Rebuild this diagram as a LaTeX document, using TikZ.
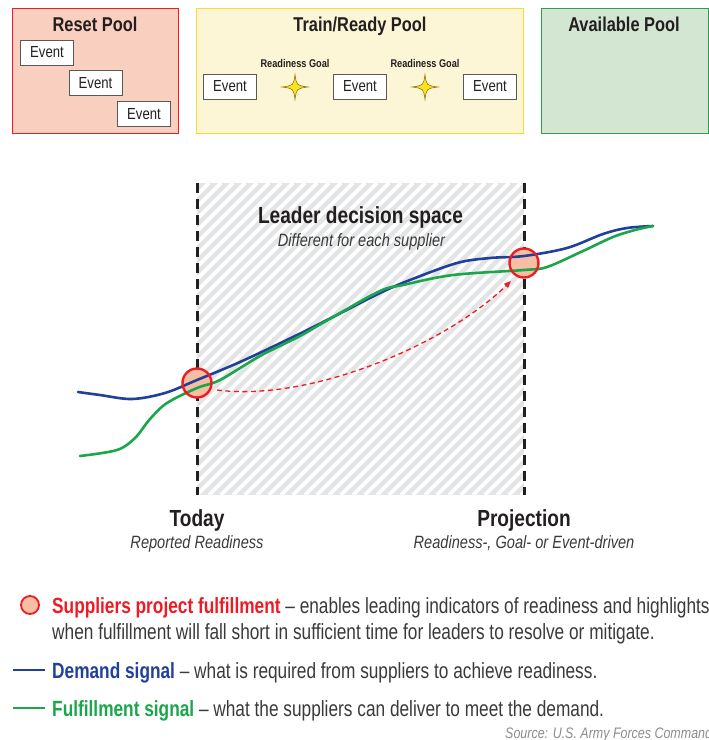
\documentclass[tikz,border=0pt]{standalone}
\usepackage{fontspec}
\setmainfont{Liberation Sans}[FakeStretch=0.82]
\newfontfamily\legendfont{Liberation Sans}[FakeStretch=0.785]
\usetikzlibrary{arrows.meta}

\definecolor{resetfill}{HTML}{F9D0BF}
\definecolor{resetline}{HTML}{ED1C24}
\definecolor{trainfill}{HTML}{FDF6D6}
\definecolor{trainline}{HTML}{F9DC2E}
\definecolor{availfill}{HTML}{D3E6D1}
\definecolor{availline}{HTML}{2E9E4F}
\definecolor{hatchgray}{HTML}{E3E4E5}
\definecolor{demandblue}{HTML}{21409A}
\definecolor{fulfilgreen}{HTML}{1AA64B}
\definecolor{pred}{HTML}{ED1C24}
\definecolor{pfill}{HTML}{F7BEA4}
\definecolor{inkdark}{HTML}{231F20}
\definecolor{legendtext}{HTML}{3A3A3A}
\definecolor{starfill}{HTML}{FFE21F}
\definecolor{starline}{HTML}{8C7A10}
\definecolor{srcgray}{HTML}{8C8C8C}

\newcommand{\fsz}[1]{\fontsize{#1}{#1}\selectfont}
\newcommand{\keyterm}[2]{\textcolor{#1}{\bfseries #2}}

\begin{document}
\begin{tikzpicture}[x=1pt,y=-1pt,
  pool/.style={draw, line width=1.3pt, anchor=north west, inner sep=0pt},
  pooltitle/.style={anchor=base, font=\fsz{20}\bfseries, text=inkdark, inner sep=0pt},
  evbox/.style={draw=black!65, line width=1pt, fill=white, minimum width=53pt,
    minimum height=25pt, inner sep=0pt, font=\fsz{16}, text=inkdark},
  goal/.style={anchor=base, font=\fsz{11.2}\bfseries, text=inkdark, inner sep=0pt},
  star/.style={fill=starfill, draw=starline, line width=0.6pt},
  vline/.style={line width=3pt, inkdark, dash pattern=on 10pt off 6pt},
  demand/.style={line width=2.6pt, demandblue, line cap=round},
  fulfil/.style={line width=2.6pt, fulfilgreen, line cap=round},
  pdisk/.style={circle, fill=pfill, minimum size=29pt, inner sep=0pt},
  pring/.style={draw=pred, line width=2.4pt},
  parrow/.style={pred, line width=1.3pt, dash pattern=on 5pt off 3.5pt,
    -{Triangle[length=7pt,width=5.5pt]}},
  big/.style={anchor=base, font=\fsz{23.3}\bfseries, text=inkdark, inner sep=0pt},
  sub/.style={anchor=base, font=\fsz{17.8}\itshape, text=legendtext, inner sep=0pt},
  legend/.style={anchor=base west, font=\legendfont\fsz{22}, text=legendtext, inner sep=0pt},
]
\useasboundingbox (0,0) rectangle (709,740);

% ---------- the three pools ----------
\node[pool, fill=resetfill, draw=resetline, minimum width=166pt, minimum height=125pt] (reset) at (12,8) {};
\node[pool, fill=trainfill, draw=trainline, minimum width=327pt, minimum height=125pt] (train) at (196,8) {};
\node[pool, fill=availfill, draw=availline, minimum width=167pt, minimum height=125pt] (avail) at (541,8) {};

\node[pooltitle] (resetT) at (95,31) {Reset Pool};
\node[pooltitle] (trainT) at (360,31) {Train/Ready Pool};
\node[pooltitle] (availT) at (624,31) {Available Pool};

% events in the reset pool
\node[evbox] (r1) at (47,52.5) {Event};
\node[evbox] (r2) at (95.5,83) {Event};
\node[evbox] (r3) at (144,114) {Event};

% events and goals in the train/ready pool
\node[evbox] (t1) at (230,86.5) {Event};
\node[evbox] (t2) at (360,86.5) {Event};
\node[evbox] (t3) at (490,86.5) {Event};

\node[goal] (g1) at (295,67) {Readiness Goal};
\node[goal] (g2) at (425,67) {Readiness Goal};

\foreach \cx in {295,425}{
  \begin{scope}[shift={(\cx,87)}]
    \draw[star] (0,-12.5) .. controls (1.5,-1.5) .. (13,0)
      .. controls (1.5,1.5) .. (0,12.5)
      .. controls (-1.5,1.5) .. (-13,0)
      .. controls (-1.5,-1.5) .. (0,-12.5) -- cycle;
  \end{scope}
}

% ---------- leader decision space ----------
\coordinate (todayTop) at (197,183);
\coordinate (todayBot) at (197,495);
\coordinate (projTop) at (524,183);
\coordinate (projBot) at (524,495);

\fill[hatchgray] (todayTop) rectangle (projBot);
\begin{scope}
  \clip (todayTop) rectangle (projBot);
  \foreach \i in {-324,-312,...,336}
    \draw[white, line width=3.6pt] (197+\i,495) -- (509+\i,183);
\end{scope}

\draw[vline] (todayTop) -- (todayBot);
\draw[vline] (projTop) -- (projBot);

\node[big] (space) at (360.5,223) {Leader decision space};
\node[sub] (spaceSub) at (361.5,246) {Different for each supplier};

% projected fulfillment points (fill first, ring on top of the signals)
\node[pdisk] (c1) at (197,383) {};
\node[pdisk] (c2) at (524,263) {};

% demand and fulfillment signals
\draw[demand] plot[smooth, tension=0.55] coordinates {
  (78,392) (100,395) (132,399) (165,393) (197,380) (240,362) (293,337)
  (333,317) (380,293) (410,280) (457,263) (490,258) (524,256) (567,248)
  (603,234) (627,228) (653,226)};
\draw[fulfil] plot[smooth, tension=0.55] coordinates {
  (80,456) (117,450) (135,438) (150,419) (167,403) (197,388) (220,380)
  (260,356) (300,336) (333,317) (380,291) (403,285) (453,275) (524,270)
  (547,267) (583,251) (613,237) (635,230) (653,226)};

\draw[pring] (c1) circle[radius=14.5pt];
\draw[pring] (c2) circle[radius=14.5pt];

\coordinate (arrS) at (217,390);
\coordinate (arrE) at (511,281);
\draw[parrow] (arrS) .. controls (310,402) and (445,345) .. (arrE);

\node[big] (today) at (197,526) {Today};
\node[sub] (todaySub) at (197,548) {Reported Readiness};
\node[big] (proj) at (524,526) {Projection};
\node[sub] (projSub) at (524,548) {Readiness-, Goal- or Event-driven};

% ---------- legend ----------
\node[circle, fill=pfill, draw=pred, line width=1.8pt, minimum size=18pt, inner sep=0pt] (lc) at (30,605) {};
\node[legend] (l1) at (52,613) {\keyterm{pred}{Suppliers project fulfillment} \textendash{} enables leading indicators of readiness and highlights};
\node[legend] (l2) at (52,639) {when fulfillment will fall short in sufficient time for leaders to resolve or mitigate.};

\coordinate (bl1) at (13,670);
\coordinate (bl2) at (45,670);
\draw[demand, line cap=butt] (bl1) -- (bl2);
\node[legend] (l3) at (52,678) {\keyterm{demandblue}{Demand signal} \textendash{} what is required from suppliers to achieve readiness.};

\coordinate (gl1) at (13,708);
\coordinate (gl2) at (45,708);
\draw[fulfil, line cap=butt] (gl1) -- (gl2);
\node[legend] (l4) at (52,716) {\keyterm{fulfilgreen}{Fulfillment signal} \textendash{} what the suppliers can deliver to meet the demand.};

\node[anchor=base west, font=\fsz{15.2}\itshape, text=srcgray, inner sep=0pt] (src) at (505,738) {Source: U.S. Army Forces Command};
\end{tikzpicture}
\end{document}
